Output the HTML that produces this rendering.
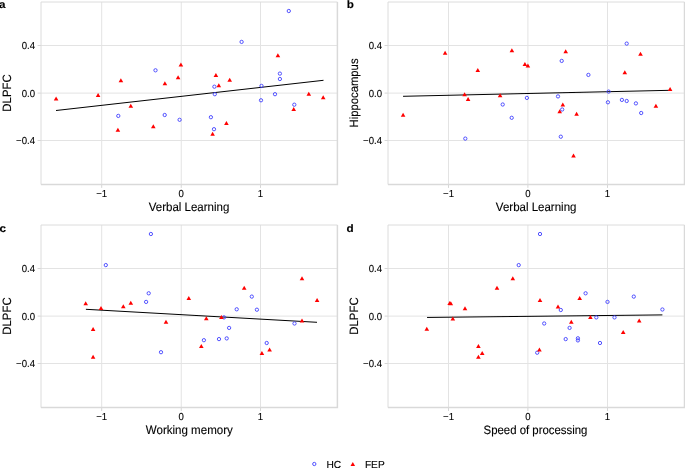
<!DOCTYPE html><html><head><meta charset="utf-8"><style>html,body{margin:0;padding:0;background:#fff;}svg{display:block;}text{font-family:"Liberation Sans",sans-serif;text-rendering:geometricPrecision;}line{stroke-width:1} circle{fill:none;stroke:#4040ff;stroke-width:0.9} path.t{fill:#ff0000}</style></head><body>
<svg width="685" height="468" viewBox="0 0 685 468">
<defs><filter id="bl" filterUnits="userSpaceOnUse" x="0" y="0" width="685" height="468"><feGaussianBlur stdDeviation="0.4"/></filter></defs>
<rect width="685" height="468" fill="#fff"/>
<g filter="url(#bl)">
<line x1="101.70" y1="2.0" x2="101.70" y2="184.5" stroke="#e3e3e3"/>
<line x1="181.25" y1="2.0" x2="181.25" y2="184.5" stroke="#e3e3e3"/>
<line x1="260.50" y1="2.0" x2="260.50" y2="184.5" stroke="#e3e3e3"/>
<line x1="41.0" y1="45.50" x2="337.4" y2="45.50" stroke="#e3e3e3"/>
<line x1="41.0" y1="93.10" x2="337.4" y2="93.10" stroke="#e3e3e3"/>
<line x1="41.0" y1="140.50" x2="337.4" y2="140.50" stroke="#e3e3e3"/>
<line x1="101.70" y1="184.5" x2="101.70" y2="187.9" stroke="#d6d6d6"/>
<line x1="181.25" y1="184.5" x2="181.25" y2="187.9" stroke="#d6d6d6"/>
<line x1="260.50" y1="184.5" x2="260.50" y2="187.9" stroke="#d6d6d6"/>
<line x1="37.6" y1="45.50" x2="41.0" y2="45.50" stroke="#d6d6d6"/>
<line x1="37.6" y1="93.10" x2="41.0" y2="93.10" stroke="#d6d6d6"/>
<line x1="37.6" y1="140.50" x2="41.0" y2="140.50" stroke="#d6d6d6"/>
<path d="M41.0,184.5V2.0H337.4" fill="none" stroke="#dcdcdc" stroke-width="1.0"/>
<path d="M41.0,184.5H337.4V2.0" fill="none" stroke="#d9d9d9" stroke-width="1.5"/>
<text transform="translate(101.700,197.300) scale(1.0,1.06)" font-size="9.6" text-anchor="middle" fill="#000" stroke="#000" stroke-width="0.12">−1</text>
<text transform="translate(181.250,197.300) scale(1.0,1.06)" font-size="9.6" text-anchor="middle" fill="#000" stroke="#000" stroke-width="0.12">0</text>
<text transform="translate(260.500,197.300) scale(1.0,1.06)" font-size="9.6" text-anchor="middle" fill="#000" stroke="#000" stroke-width="0.12">1</text>
<text transform="translate(35.000,49.100) scale(1.0,1.06)" font-size="9.6" text-anchor="end" fill="#000" stroke="#000" stroke-width="0.12">0.4</text>
<text transform="translate(35.000,96.700) scale(1.0,1.06)" font-size="9.6" text-anchor="end" fill="#000" stroke="#000" stroke-width="0.12">0.0</text>
<text transform="translate(35.000,144.100) scale(1.0,1.06)" font-size="9.6" text-anchor="end" fill="#000" stroke="#000" stroke-width="0.12">−0.4</text>
<text transform="translate(189.050,210.900) scale(1.0,1.06)" font-size="11.5" text-anchor="middle" fill="#000" stroke="#000" stroke-width="0.12">Verbal Learning</text>
<text transform="translate(10.600,93.000) rotate(-90) scale(1.0,1.06)" font-size="11.4" text-anchor="middle" fill="#000" stroke="#000" stroke-width="0.12">DLPFC</text>
<text transform="translate(-0.900,7.800) scale(1.0,0.93)" font-size="11.7" font-weight="bold" fill="#000" stroke="#000" stroke-width="0.12">a</text>
<line x1="56" y1="110.5" x2="323.5" y2="80.3" stroke="#000" stroke-width="0.8"/>
<circle cx="155.5" cy="70.3" r="1.65"/>
<circle cx="288.8" cy="11.0" r="1.65"/>
<circle cx="241.6" cy="41.9" r="1.65"/>
<circle cx="214.4" cy="86.7" r="1.65"/>
<circle cx="279.9" cy="73.6" r="1.65"/>
<circle cx="279.9" cy="79.0" r="1.65"/>
<circle cx="261.5" cy="85.9" r="1.65"/>
<circle cx="118.3" cy="115.9" r="1.65"/>
<circle cx="164.7" cy="115" r="1.65"/>
<circle cx="179.6" cy="119.8" r="1.65"/>
<circle cx="214.8" cy="94.2" r="1.65"/>
<circle cx="261" cy="100.3" r="1.65"/>
<circle cx="275" cy="94.2" r="1.65"/>
<circle cx="294.3" cy="104.7" r="1.65"/>
<circle cx="210.9" cy="117.2" r="1.65"/>
<circle cx="214" cy="129.2" r="1.65"/>
<path class="t" d="M56.10,96.60L58.40,100.60H53.80Z"/>
<path class="t" d="M98.10,93.10L100.40,97.10H95.80Z"/>
<path class="t" d="M120.90,78.20L123.20,82.20H118.60Z"/>
<path class="t" d="M130.80,103.80L133.10,107.80H128.50Z"/>
<path class="t" d="M117.90,127.70L120.20,131.70H115.60Z"/>
<path class="t" d="M153.30,124.20L155.60,128.20H151.00Z"/>
<path class="t" d="M164.90,81.20L167.20,85.20H162.60Z"/>
<path class="t" d="M178.10,75.30L180.40,79.30H175.80Z"/>
<path class="t" d="M180.90,62.60L183.20,66.60H178.60Z"/>
<path class="t" d="M215.90,72.90L218.20,76.90H213.60Z"/>
<path class="t" d="M229.70,77.70L232.00,81.70H227.40Z"/>
<path class="t" d="M218.80,83.20L221.10,87.20H216.50Z"/>
<path class="t" d="M277.90,53.20L280.20,57.20H275.60Z"/>
<path class="t" d="M308.80,91.75L311.10,95.75H306.50Z"/>
<path class="t" d="M323.20,95.30L325.50,99.30H320.90Z"/>
<path class="t" d="M293.70,107.10L296.00,111.10H291.40Z"/>
<path class="t" d="M226.40,120.90L228.70,124.90H224.10Z"/>
<path class="t" d="M212.60,131.80L214.90,135.80H210.30Z"/>
<line x1="448.50" y1="2.0" x2="448.50" y2="184.5" stroke="#e3e3e3"/>
<line x1="527.90" y1="2.0" x2="527.90" y2="184.5" stroke="#e3e3e3"/>
<line x1="607.50" y1="2.0" x2="607.50" y2="184.5" stroke="#e3e3e3"/>
<line x1="388.0" y1="45.50" x2="684.5" y2="45.50" stroke="#e3e3e3"/>
<line x1="388.0" y1="93.10" x2="684.5" y2="93.10" stroke="#e3e3e3"/>
<line x1="388.0" y1="140.50" x2="684.5" y2="140.50" stroke="#e3e3e3"/>
<line x1="448.50" y1="184.5" x2="448.50" y2="187.9" stroke="#d6d6d6"/>
<line x1="527.90" y1="184.5" x2="527.90" y2="187.9" stroke="#d6d6d6"/>
<line x1="607.50" y1="184.5" x2="607.50" y2="187.9" stroke="#d6d6d6"/>
<line x1="384.6" y1="45.50" x2="388.0" y2="45.50" stroke="#d6d6d6"/>
<line x1="384.6" y1="93.10" x2="388.0" y2="93.10" stroke="#d6d6d6"/>
<line x1="384.6" y1="140.50" x2="388.0" y2="140.50" stroke="#d6d6d6"/>
<path d="M388.0,184.5V2.0H684.5" fill="none" stroke="#dcdcdc" stroke-width="1.0"/>
<path d="M388.0,184.5H684.5V2.0" fill="none" stroke="#d9d9d9" stroke-width="1.5"/>
<text transform="translate(448.500,197.300) scale(1.0,1.06)" font-size="9.6" text-anchor="middle" fill="#000" stroke="#000" stroke-width="0.12">−1</text>
<text transform="translate(527.900,197.300) scale(1.0,1.06)" font-size="9.6" text-anchor="middle" fill="#000" stroke="#000" stroke-width="0.12">0</text>
<text transform="translate(607.500,197.300) scale(1.0,1.06)" font-size="9.6" text-anchor="middle" fill="#000" stroke="#000" stroke-width="0.12">1</text>
<text transform="translate(382.000,49.100) scale(1.0,1.06)" font-size="9.6" text-anchor="end" fill="#000" stroke="#000" stroke-width="0.12">0.4</text>
<text transform="translate(382.000,96.700) scale(1.0,1.06)" font-size="9.6" text-anchor="end" fill="#000" stroke="#000" stroke-width="0.12">0.0</text>
<text transform="translate(382.000,144.100) scale(1.0,1.06)" font-size="9.6" text-anchor="end" fill="#000" stroke="#000" stroke-width="0.12">−0.4</text>
<text transform="translate(536.150,210.900) scale(1.0,1.06)" font-size="11.5" text-anchor="middle" fill="#000" stroke="#000" stroke-width="0.12">Verbal Learning</text>
<text transform="translate(357.600,93.000) rotate(-90) scale(1.0,1.06)" font-size="11.3" text-anchor="middle" fill="#000" stroke="#000" stroke-width="0.12">Hippocampus</text>
<text transform="translate(346.700,7.900) scale(1.0,0.93)" font-size="11.7" font-weight="bold" fill="#000" stroke="#000" stroke-width="0.12">b</text>
<line x1="403.05" y1="96.3" x2="670" y2="90.3" stroke="#000" stroke-width="0.8"/>
<circle cx="561.7" cy="60.9" r="1.65"/>
<circle cx="588.4" cy="74.9" r="1.65"/>
<circle cx="626.7" cy="43.6" r="1.65"/>
<circle cx="608.6" cy="91.6" r="1.65"/>
<circle cx="526.9" cy="97.9" r="1.65"/>
<circle cx="502.7" cy="104.5" r="1.65"/>
<circle cx="511.7" cy="117.8" r="1.65"/>
<circle cx="465.3" cy="138.6" r="1.65"/>
<circle cx="558" cy="96.4" r="1.65"/>
<circle cx="562.2" cy="109.5" r="1.65"/>
<circle cx="560.8" cy="136.7" r="1.65"/>
<circle cx="607.9" cy="102.3" r="1.65"/>
<circle cx="621.9" cy="99.9" r="1.65"/>
<circle cx="626.7" cy="101" r="1.65"/>
<circle cx="635.9" cy="103.4" r="1.65"/>
<circle cx="641.2" cy="113" r="1.65"/>
<path class="t" d="M445.10,50.80L447.40,54.80H442.80Z"/>
<path class="t" d="M511.90,48.20L514.20,52.20H509.60Z"/>
<path class="t" d="M477.80,67.90L480.10,71.90H475.50Z"/>
<path class="t" d="M524.90,62.00L527.20,66.00H522.60Z"/>
<path class="t" d="M527.90,63.50L530.20,67.50H525.60Z"/>
<path class="t" d="M464.60,92.20L466.90,96.20H462.30Z"/>
<path class="t" d="M468.10,97.00L470.40,101.00H465.80Z"/>
<path class="t" d="M500.10,93.30L502.40,97.30H497.80Z"/>
<path class="t" d="M403.10,112.80L405.40,116.80H400.80Z"/>
<path class="t" d="M565.70,49.30L568.00,53.30H563.40Z"/>
<path class="t" d="M640.50,51.70L642.80,55.70H638.20Z"/>
<path class="t" d="M624.80,70.30L627.10,74.30H622.50Z"/>
<path class="t" d="M670.10,86.90L672.40,90.90H667.80Z"/>
<path class="t" d="M562.80,102.50L565.10,106.50H560.50Z"/>
<path class="t" d="M559.70,109.30L562.00,113.30H557.40Z"/>
<path class="t" d="M576.60,111.70L578.90,115.70H574.30Z"/>
<path class="t" d="M573.50,153.50L575.80,157.50H571.20Z"/>
<path class="t" d="M655.90,103.80L658.20,107.80H653.60Z"/>
<line x1="101.70" y1="225.0" x2="101.70" y2="407.6" stroke="#e3e3e3"/>
<line x1="181.25" y1="225.0" x2="181.25" y2="407.6" stroke="#e3e3e3"/>
<line x1="260.50" y1="225.0" x2="260.50" y2="407.6" stroke="#e3e3e3"/>
<line x1="41.0" y1="268.50" x2="337.4" y2="268.50" stroke="#e3e3e3"/>
<line x1="41.0" y1="316.10" x2="337.4" y2="316.10" stroke="#e3e3e3"/>
<line x1="41.0" y1="363.50" x2="337.4" y2="363.50" stroke="#e3e3e3"/>
<line x1="101.70" y1="407.6" x2="101.70" y2="411.0" stroke="#d6d6d6"/>
<line x1="181.25" y1="407.6" x2="181.25" y2="411.0" stroke="#d6d6d6"/>
<line x1="260.50" y1="407.6" x2="260.50" y2="411.0" stroke="#d6d6d6"/>
<line x1="37.6" y1="268.50" x2="41.0" y2="268.50" stroke="#d6d6d6"/>
<line x1="37.6" y1="316.10" x2="41.0" y2="316.10" stroke="#d6d6d6"/>
<line x1="37.6" y1="363.50" x2="41.0" y2="363.50" stroke="#d6d6d6"/>
<path d="M41.0,407.6V225.0H337.4" fill="none" stroke="#dcdcdc" stroke-width="1.0"/>
<path d="M41.0,407.6H337.4V225.0" fill="none" stroke="#d9d9d9" stroke-width="1.5"/>
<text transform="translate(101.700,420.400) scale(1.0,1.06)" font-size="9.6" text-anchor="middle" fill="#000" stroke="#000" stroke-width="0.12">−1</text>
<text transform="translate(181.250,420.400) scale(1.0,1.06)" font-size="9.6" text-anchor="middle" fill="#000" stroke="#000" stroke-width="0.12">0</text>
<text transform="translate(260.500,420.400) scale(1.0,1.06)" font-size="9.6" text-anchor="middle" fill="#000" stroke="#000" stroke-width="0.12">1</text>
<text transform="translate(35.000,272.100) scale(1.0,1.06)" font-size="9.6" text-anchor="end" fill="#000" stroke="#000" stroke-width="0.12">0.4</text>
<text transform="translate(35.000,319.700) scale(1.0,1.06)" font-size="9.6" text-anchor="end" fill="#000" stroke="#000" stroke-width="0.12">0.0</text>
<text transform="translate(35.000,367.100) scale(1.0,1.06)" font-size="9.6" text-anchor="end" fill="#000" stroke="#000" stroke-width="0.12">−0.4</text>
<text transform="translate(189.300,434.000) scale(1.0,1.06)" font-size="11.55" text-anchor="middle" fill="#000" stroke="#000" stroke-width="0.12">Working memory</text>
<text transform="translate(10.600,316.050) rotate(-90) scale(1.0,1.06)" font-size="11.4" text-anchor="middle" fill="#000" stroke="#000" stroke-width="0.12">DLPFC</text>
<text transform="translate(-0.400,231.500) scale(1.0,0.93)" font-size="11.7" font-weight="bold" fill="#000" stroke="#000" stroke-width="0.12">c</text>
<line x1="85.9" y1="309.3" x2="317" y2="322.3" stroke="#000" stroke-width="0.8"/>
<circle cx="150.9" cy="234" r="1.65"/>
<circle cx="105.8" cy="265.1" r="1.65"/>
<circle cx="148.7" cy="293.3" r="1.65"/>
<circle cx="146.1" cy="301.9" r="1.65"/>
<circle cx="251.8" cy="296.6" r="1.65"/>
<circle cx="236.7" cy="309.3" r="1.65"/>
<circle cx="256.9" cy="309.7" r="1.65"/>
<circle cx="161" cy="352.2" r="1.65"/>
<circle cx="224" cy="317.4" r="1.65"/>
<circle cx="229.1" cy="327.9" r="1.65"/>
<circle cx="203.9" cy="340.2" r="1.65"/>
<circle cx="219" cy="339.1" r="1.65"/>
<circle cx="226.7" cy="338.4" r="1.65"/>
<circle cx="266.7" cy="343" r="1.65"/>
<circle cx="294.5" cy="323.5" r="1.65"/>
<path class="t" d="M85.70,301.20L88.00,305.20H83.40Z"/>
<path class="t" d="M101.00,306.00L103.30,310.00H98.70Z"/>
<path class="t" d="M123.30,304.20L125.60,308.20H121.00Z"/>
<path class="t" d="M130.80,300.70L133.10,304.70H128.50Z"/>
<path class="t" d="M188.80,296.10L191.10,300.10H186.50Z"/>
<path class="t" d="M244.20,285.80L246.50,289.80H241.90Z"/>
<path class="t" d="M302.00,276.20L304.30,280.20H299.70Z"/>
<path class="t" d="M317.10,298.10L319.40,302.10H314.80Z"/>
<path class="t" d="M93.10,327.00L95.40,331.00H90.80Z"/>
<path class="t" d="M93.10,354.80L95.40,358.80H90.80Z"/>
<path class="t" d="M166.00,319.80L168.30,323.80H163.70Z"/>
<path class="t" d="M206.30,316.30L208.60,320.30H204.00Z"/>
<path class="t" d="M221.40,315.00L223.70,319.00H219.10Z"/>
<path class="t" d="M201.30,343.90L203.60,347.90H199.00Z"/>
<path class="t" d="M269.60,347.40L271.90,351.40H267.30Z"/>
<path class="t" d="M261.90,350.90L264.20,354.90H259.60Z"/>
<path class="t" d="M302.00,318.50L304.30,322.50H299.70Z"/>
<line x1="448.50" y1="225.0" x2="448.50" y2="407.6" stroke="#e3e3e3"/>
<line x1="527.90" y1="225.0" x2="527.90" y2="407.6" stroke="#e3e3e3"/>
<line x1="607.50" y1="225.0" x2="607.50" y2="407.6" stroke="#e3e3e3"/>
<line x1="388.0" y1="268.50" x2="684.5" y2="268.50" stroke="#e3e3e3"/>
<line x1="388.0" y1="316.10" x2="684.5" y2="316.10" stroke="#e3e3e3"/>
<line x1="388.0" y1="363.50" x2="684.5" y2="363.50" stroke="#e3e3e3"/>
<line x1="448.50" y1="407.6" x2="448.50" y2="411.0" stroke="#d6d6d6"/>
<line x1="527.90" y1="407.6" x2="527.90" y2="411.0" stroke="#d6d6d6"/>
<line x1="607.50" y1="407.6" x2="607.50" y2="411.0" stroke="#d6d6d6"/>
<line x1="384.6" y1="268.50" x2="388.0" y2="268.50" stroke="#d6d6d6"/>
<line x1="384.6" y1="316.10" x2="388.0" y2="316.10" stroke="#d6d6d6"/>
<line x1="384.6" y1="363.50" x2="388.0" y2="363.50" stroke="#d6d6d6"/>
<path d="M388.0,407.6V225.0H684.5" fill="none" stroke="#dcdcdc" stroke-width="1.0"/>
<path d="M388.0,407.6H684.5V225.0" fill="none" stroke="#d9d9d9" stroke-width="1.5"/>
<text transform="translate(448.500,420.400) scale(1.0,1.06)" font-size="9.6" text-anchor="middle" fill="#000" stroke="#000" stroke-width="0.12">−1</text>
<text transform="translate(527.900,420.400) scale(1.0,1.06)" font-size="9.6" text-anchor="middle" fill="#000" stroke="#000" stroke-width="0.12">0</text>
<text transform="translate(607.500,420.400) scale(1.0,1.06)" font-size="9.6" text-anchor="middle" fill="#000" stroke="#000" stroke-width="0.12">1</text>
<text transform="translate(382.000,272.100) scale(1.0,1.06)" font-size="9.6" text-anchor="end" fill="#000" stroke="#000" stroke-width="0.12">0.4</text>
<text transform="translate(382.000,319.700) scale(1.0,1.06)" font-size="9.6" text-anchor="end" fill="#000" stroke="#000" stroke-width="0.12">0.0</text>
<text transform="translate(382.000,367.100) scale(1.0,1.06)" font-size="9.6" text-anchor="end" fill="#000" stroke="#000" stroke-width="0.12">−0.4</text>
<text transform="translate(535.450,434.000) scale(1.0,1.06)" font-size="11.4" text-anchor="middle" fill="#000" stroke="#000" stroke-width="0.12">Speed of processing</text>
<text transform="translate(357.600,316.050) rotate(-90) scale(1.0,1.06)" font-size="11.4" text-anchor="middle" fill="#000" stroke="#000" stroke-width="0.12">DLPFC</text>
<text transform="translate(346.600,231.600) scale(1.0,0.93)" font-size="11.7" font-weight="bold" fill="#000" stroke="#000" stroke-width="0.12">d</text>
<line x1="427.05" y1="317.45" x2="662.4" y2="314.9" stroke="#000" stroke-width="0.8"/>
<circle cx="518.7" cy="265.1" r="1.65"/>
<circle cx="540" cy="234" r="1.65"/>
<circle cx="560.8" cy="310" r="1.65"/>
<circle cx="585.6" cy="293.3" r="1.65"/>
<circle cx="607.5" cy="301.9" r="1.65"/>
<circle cx="633.8" cy="296.6" r="1.65"/>
<circle cx="662.4" cy="309.5" r="1.65"/>
<circle cx="544.2" cy="323.5" r="1.65"/>
<circle cx="569.6" cy="327.9" r="1.65"/>
<circle cx="596.3" cy="317.4" r="1.65"/>
<circle cx="614.5" cy="317.4" r="1.65"/>
<circle cx="565.7" cy="339.1" r="1.65"/>
<circle cx="577.9" cy="338.3" r="1.65"/>
<circle cx="577.9" cy="340.4" r="1.65"/>
<circle cx="600" cy="343" r="1.65"/>
<circle cx="537.2" cy="352.7" r="1.65"/>
<path class="t" d="M512.80,276.20L515.10,280.20H510.50Z"/>
<path class="t" d="M497.00,285.80L499.30,289.80H494.70Z"/>
<path class="t" d="M449.70,301.10L452.00,305.10H447.40Z"/>
<path class="t" d="M450.80,301.20L453.10,305.20H448.50Z"/>
<path class="t" d="M465.00,306.20L467.30,310.20H462.70Z"/>
<path class="t" d="M540.00,298.10L542.30,302.10H537.70Z"/>
<path class="t" d="M558.00,304.50L560.30,308.50H555.70Z"/>
<path class="t" d="M579.70,296.10L582.00,300.10H577.40Z"/>
<path class="t" d="M452.80,316.50L455.10,320.50H450.50Z"/>
<path class="t" d="M426.80,326.80L429.10,330.80H424.50Z"/>
<path class="t" d="M478.40,343.90L480.70,347.90H476.10Z"/>
<path class="t" d="M482.20,350.90L484.50,354.90H479.90Z"/>
<path class="t" d="M478.40,354.80L480.70,358.80H476.10Z"/>
<path class="t" d="M571.30,319.80L573.60,323.80H569.00Z"/>
<path class="t" d="M590.40,315.00L592.70,319.00H588.10Z"/>
<path class="t" d="M639.20,318.50L641.50,322.50H636.90Z"/>
<path class="t" d="M623.20,330.10L625.50,334.10H620.90Z"/>
<path class="t" d="M539.40,347.60L541.70,351.60H537.10Z"/>
<circle cx="314.3" cy="464" r="1.65"/>
<text transform="translate(326.400,467.900)" font-size="10.2" fill="#000" stroke="#000" stroke-width="0.12">HC</text>
<path class="t" d="M352.8,462.0L355.1,466.0H350.5Z"/>
<text transform="translate(364.900,467.900)" font-size="10.2" fill="#000" stroke="#000" stroke-width="0.12">FEP</text>
</g></svg></body></html>
